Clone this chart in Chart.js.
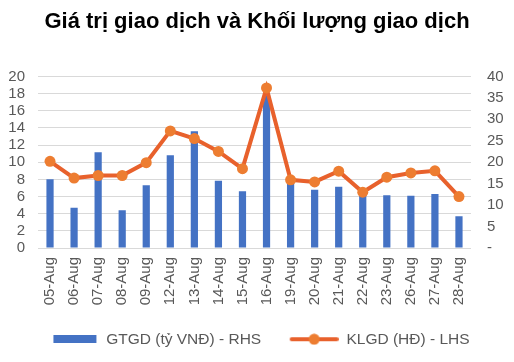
<!DOCTYPE html>
<html>
<head>
<meta charset="utf-8">
<script src="https://cdn.jsdelivr.net/npm/chart.js@4"></script>
<style>
  html, body { margin: 0; padding: 0; background: #fff; }
  #wrap { width: 514px; height: 362px; }
</style>
</head>
<body>
<div id="wrap"><canvas id="chart"></canvas></div>
<script>
const labels = ['05-Aug', '06-Aug', '07-Aug', '08-Aug', '09-Aug', '12-Aug', '13-Aug', '14-Aug', '15-Aug',
  '16-Aug', '19-Aug', '20-Aug', '21-Aug', '22-Aug', '23-Aug', '26-Aug', '27-Aug', '28-Aug'];
const gtgd = [8.0, 4.7, 11.15, 4.4, 7.3, 10.8, 13.6, 7.85, 6.6, 17.8, 7.6, 6.8, 7.15, 6.2, 6.15, 6.1, 6.3, 3.7];
const klgd = [20.2, 16.3, 16.9, 16.9, 19.9, 27.3, 25.5, 22.5, 18.5, 37.3, 15.9, 15.4, 17.9, 13.0, 16.5, 17.5, 18.0, 12.0];

const barColor = '#4472C4';
const lineColor = '#E8612C';
const markerColor = '#ED7D31';
const tickColor = '#595959';
const fontFamily = '"Liberation Sans", Arial, sans-serif';
const swatchW = 54;

// legend swatches (transparent margin on the left keeps the item spacing)
function barSwatch() {
  const c = document.createElement('canvas');
  c.width = swatchW; c.height = 8;
  const g = c.getContext('2d');
  g.fillStyle = barColor;
  g.fillRect(swatchW - 45, 0, 43, 8);
  return c;
}
function lineSwatch() {
  const c = document.createElement('canvas');
  c.width = swatchW; c.height = 12;
  const g = c.getContext('2d');
  g.strokeStyle = lineColor;
  g.lineWidth = 4;
  g.lineCap = 'round';
  g.beginPath(); g.moveTo(swatchW - 47, 6); g.lineTo(swatchW - 2, 6); g.stroke();
  g.fillStyle = markerColor;
  g.beginPath(); g.arc(swatchW - 24.5, 6, 5.5, 0, Math.PI * 2); g.fill();
  return c;
}

const chart = new Chart(document.getElementById('chart'), {
  data: {
    labels: labels,
    datasets: [
      {
        type: 'bar',
        label: 'GTGD (tỷ VNĐ) - RHS',
        data: gtgd,
        backgroundColor: barColor,
        yAxisID: 'y',
        order: 1,
        barPercentage: 0.6,
        categoryPercentage: 0.5,
      },
      {
        type: 'line',
        label: 'KLGD (HĐ) - LHS',
        data: klgd,
        borderColor: lineColor,
        borderWidth: 4,
        pointRadius: 5.5,
        pointBackgroundColor: markerColor,
        pointBorderColor: markerColor,
        pointBorderWidth: 0,
        tension: 0,
        yAxisID: 'y1',
        order: 0,
      },
    ],
  },
  options: {
    responsive: true,
    maintainAspectRatio: false,
    animation: false,
    layout: { padding: { left: 0, right: 0, top: 0, bottom: 5 } },
    plugins: {
      title: {
        display: true,
        text: 'Giá trị giao dịch và Khối lượng giao dịch',
        color: '#000',
        font: { family: fontFamily, size: 22, weight: 'bold' },
        padding: { top: 9, bottom: 41 },
      },
      tooltip: { enabled: false },
      legend: {
        position: 'bottom',
        labels: {
          usePointStyle: true,
          pointStyleWidth: swatchW,
          padding: 23.5,
          color: tickColor,
          font: { family: fontFamily, size: 15.5 },
          generateLabels: () => [
            { text: 'GTGD (tỷ VNĐ) - RHS', pointStyle: barSwatch(), fontColor: tickColor, lineWidth: 0, datasetIndex: 0 },
            { text: 'KLGD (HĐ) - LHS', pointStyle: lineSwatch(), fontColor: tickColor, lineWidth: 0, datasetIndex: 1 },
          ],
        },
      },
    },
    scales: {
      x: {
        grid: { display: false, drawTicks: false },
        border: { display: false },
        ticks: {
          color: tickColor,
          font: { family: fontFamily, size: 15 },
          minRotation: 90,
          maxRotation: 90,
          padding: 9,
          autoSkip: false,
        },
        afterFit: (s) => { s.height = 60; },
      },
      y: {
        position: 'left',
        min: 0,
        max: 20,
        grid: { color: '#D9D9D9', lineWidth: 1, drawTicks: false },
        border: { display: false },
        ticks: {
          stepSize: 2,
          autoSkip: false,
          color: tickColor,
          font: { family: fontFamily, size: 15 },
          padding: 13,
        },
        afterFit: (s) => { s.width = 38; },
      },
      y1: {
        position: 'right',
        min: 0,
        max: 40,
        grid: { display: false, drawTicks: false },
        border: { display: false },
        ticks: {
          stepSize: 5,
          autoSkip: false,
          color: tickColor,
          font: { family: fontFamily, size: 15 },
          padding: 16,
          callback: (v) => (v === 0 ? '-' : v),
        },
        afterFit: (s) => { s.width = 43; },
      },
    },
  },
});
</script>
</body>
</html>
